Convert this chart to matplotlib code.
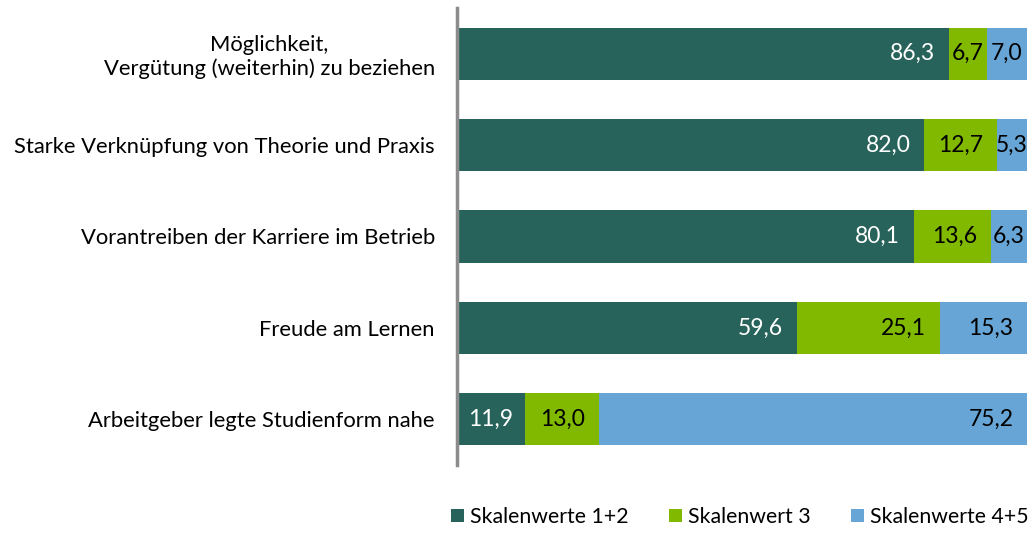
import matplotlib
matplotlib.use("Agg")
import matplotlib.pyplot as plt
from matplotlib.patches import Patch

categories = [
    "Möglichkeit,\nVergütung (weiterhin) zu beziehen",
    "Starke Verknüpfung von Theorie und Praxis",
    "Vorantreiben der Karriere im Betrieb",
    "Freude am Lernen",
    "Arbeitgeber legte Studienform nahe",
]
series_names = ["Skalenwerte 1+2", "Skalenwert 3", "Skalenwerte 4+5"]
s12 = [86.3, 82.0, 80.1, 59.6, 11.9]
s3 = [6.7, 12.7, 13.6, 25.1, 13.0]
s45 = [7.0, 5.3, 6.3, 15.3, 75.2]

colors = ["#27635a", "#80b900", "#66a5d5"]
text_colors = ["white", "black", "black"]

plt.rcParams["font.family"] = ["Lato", "DejaVu Sans"]

fig = plt.figure(figsize=(10.34, 5.34), dpi=100)
ax = fig.add_axes([457/1034, 1-465/534, (1027-457)/1034, 457/534])

ys = list(range(len(categories)))
series = [s12, s3, s45]
left = [0.0]*len(categories)
bar_h = 0.57
fs_val = 16.5
fs_cat = 15.8
fs_leg = 15.3
pad_px = 14
px_per_unit = (1027-457)/100.0

for si, vals in enumerate(series):
    ax.barh(ys, vals, left=left, height=bar_h, color=colors[si], edgecolor="none")
    for i, v in enumerate(vals):
        lbl = f"{v:.1f}".replace(".", ",")
        seg_px = v*px_per_unit
        text_w = 44
        end = left[i] + v
        if seg_px > text_w + 2*pad_px:
            ax.text(end - pad_px/px_per_unit, i, lbl, ha="right", va="center",
                    color=text_colors[si], fontsize=fs_val)
        else:
            ax.text(left[i] + v/2, i, lbl, ha="center", va="center",
                    color=text_colors[si], fontsize=fs_val)
    left = [l+v for l, v in zip(left, vals)]

ax.set_xlim(0, 100)
ax.set_ylim(len(categories)-0.5, -0.5)
ax.set_yticks(ys)
ax.set_yticklabels(categories, fontsize=fs_cat)
for t in ax.get_yticklabels():
    t.set_horizontalalignment("right")
    t.set_multialignment("center")
ax.tick_params(axis="y", length=0, pad=16)
ax.set_xticks([])
for s in ["top", "right", "bottom"]:
    ax.spines[s].set_visible(False)
ax.spines["left"].set_color("#8c8c8c")
ax.spines["left"].set_linewidth(2.5)

handles = [Patch(facecolor=c, edgecolor="none") for c in colors]
fig.legend(handles, series_names, loc="center", bbox_to_anchor=(740/1034, 1-517/534),
           ncol=3, frameon=False, fontsize=fs_leg, handlelength=0.6, handleheight=0.6,
           handletextpad=0.3, columnspacing=1.9, borderpad=0, borderaxespad=0)

fig.savefig("out.png", dpi=100)
